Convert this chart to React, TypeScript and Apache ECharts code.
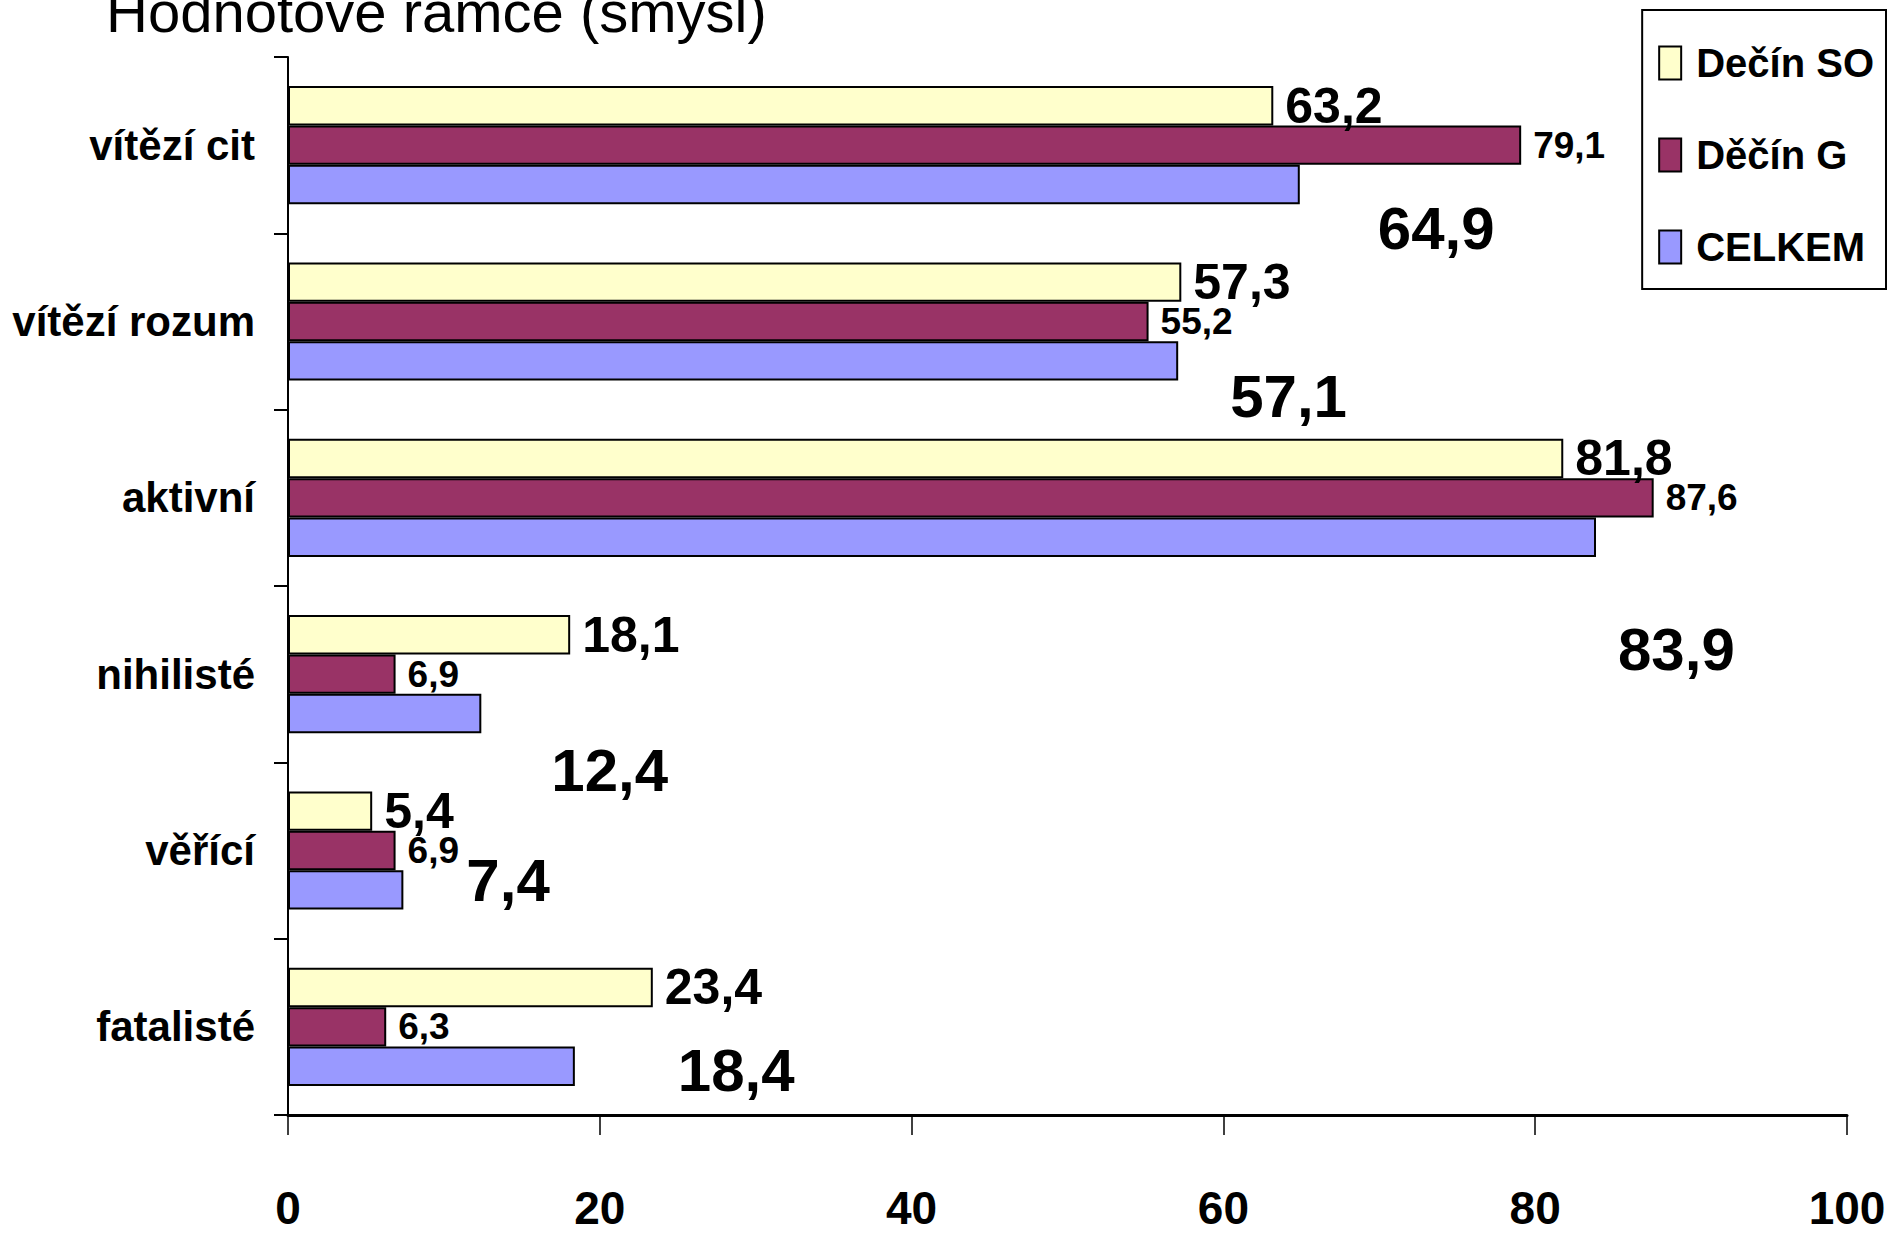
import React, { useEffect, useRef } from "react";
import * as echarts from "echarts";

const title = "Hodnotové rámce (smysl)";
const categories = ["vítězí cit", "vítězí rozum", "aktivní", "nihilisté", "věřící", "fatalisté"];
const seriesNames = ["Dečín SO", "Děčín G", "CELKEM"];
const decinSO = [63.2, 57.3, 81.8, 18.1, 5.4, 23.4];
const decinG = [79.1, 55.2, 87.6, 6.9, 6.9, 6.3];
const celkem = [64.9, 57.1, 83.9, 12.4, 7.4, 18.4];
const xMin = 0;
const xMax = 100;
const xStep = 20;

// label placement of the CELKEM labels (pixels), kept apart from the data
const celkemLabelOffsets = [
  [66, 44],
  [40, 36],
  [10, 112],
  [58, 57],
  [51, -9],
  [91, 4],
];

const FONT = '"Liberation Sans", Arial, sans-serif';
const fmt = (v: number) => String(v).replace(".", ",");

export default function App() {
  const ref = useRef<HTMLDivElement>(null);
  useEffect(() => {
    if (!ref.current) return;
    const chart = echarts.init(ref.current, null, { renderer: "svg" });
    const labelBase = {
      show: true,
      position: "right" as const,
      distance: 12,
      color: "#000",
      fontWeight: "bold" as const,
      fontFamily: FONT,
      formatter: (p: any) => fmt(typeof p.value === "number" ? p.value : p.data.value),
    };
    chart.setOption({
      animation: false,
      backgroundColor: "#fff",
      graphic: [
        {
          type: "text",
          x: 106,
          y: 40,
          style: {
            text: title,
            fontSize: 58,
            fontFamily: FONT,
            fill: "#000",
            verticalAlign: "bottom",
          },
        },
      ],
      legend: {
        orient: "vertical",
        right: 4,
        top: 10,
        data: seriesNames,
        icon: "rect",
        itemWidth: 22,
        itemHeight: 33,
        itemGap: 36,
        padding: [25, 12, 14, 16],
        borderColor: "#000",
        borderWidth: 2,
        backgroundColor: "#fff",
        textStyle: {
          fontSize: 40,
          fontWeight: "bold",
          fontFamily: FONT,
          color: "#000",
          lineHeight: 56,
          padding: [0, 0, 0, 10],
        },
      },
      grid: { left: 288, right: 43, top: 57, bottom: 120, containLabel: false, outerBoundsMode: "none" },
      xAxis: {
        type: "value",
        min: xMin,
        max: xMax,
        interval: xStep,
        axisLine: { show: true, lineStyle: { color: "#000", width: 3 } },
        axisTick: { show: true, length: 20, lineStyle: { color: "#000", width: 1.5 } },
        splitLine: { show: false },
        axisLabel: {
          margin: 70,
          fontSize: 46,
          lineHeight: 46,
          fontWeight: "bold",
          fontFamily: FONT,
          color: "#000",
        },
      },
      yAxis: {
        type: "category",
        inverse: true,
        data: categories,
        axisLine: { show: true, lineStyle: { color: "#000", width: 2 } },
        axisTick: { show: true, length: 14, lineStyle: { color: "#000", width: 2 } },
        axisLabel: {
          margin: 33,
          fontSize: 42,
          fontWeight: "bold",
          fontFamily: FONT,
          color: "#000",
        },
      },
      series: [
        {
          name: seriesNames[0],
          type: "bar",
          data: decinSO,
          barGap: "0%",
          barCategoryGap: "33%",
          itemStyle: { color: "#FFFFCC", borderColor: "#000", borderWidth: 2 },
          label: { ...labelBase, fontSize: 50 },
        },
        {
          name: seriesNames[1],
          type: "bar",
          data: decinG,
          barGap: "0%",
          barCategoryGap: "33%",
          itemStyle: { color: "#993366", borderColor: "#000", borderWidth: 2 },
          label: { ...labelBase, fontSize: 37 },
        },
        {
          name: seriesNames[2],
          type: "bar",
          data: celkem.map((v, i) => ({ value: v, label: { offset: celkemLabelOffsets[i] } })),
          barGap: "0%",
          barCategoryGap: "33%",
          itemStyle: { color: "#9999FF", borderColor: "#000", borderWidth: 2 },
          label: { ...labelBase, fontSize: 60 },
        },
      ],
    });
    return () => chart.dispose();
  }, []);
  return (
    <div
      ref={ref}
      style={{ position: "fixed", left: 0, top: 0, width: 1890, height: 1235 }}
    />
  );
}
